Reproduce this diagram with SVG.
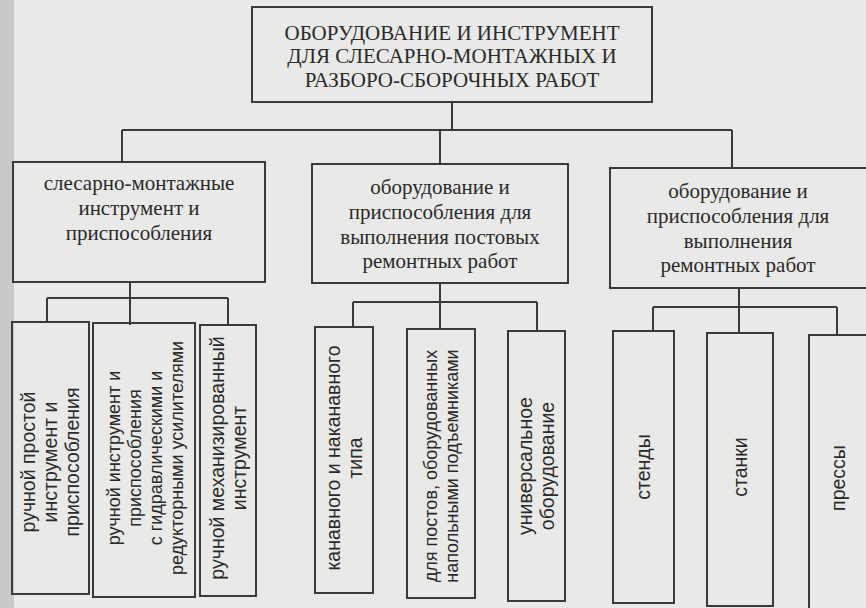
<svg xmlns="http://www.w3.org/2000/svg" width="866" height="608" viewBox="0 0 866 608">
<style>
.b{fill:none;stroke:#3a3a3a;stroke-width:2}
.c{fill:none;stroke:#3a3a3a;stroke-width:2}
.h{font-family:"Liberation Serif",serif;font-size:21px;fill:#2a2a2a;text-anchor:middle}
.v{font-family:"Liberation Sans",sans-serif;font-size:19.5px;fill:#2a2a2a;text-anchor:middle}
.s{font-size:18px}
</style>
<rect width="866" height="608" fill="#e9e9e7"/>
<rect width="14" height="608" fill="#c9c9c7"/>
<g id="connectors">
<path class="c" d="M452 102V130M122 130H732M122 130V162M440 130V164M732 130V168"/>
<path class="c" d="M130 282V325M47 298H228M47 298V322M228 298V325"/>
<path class="c" d="M440 283V329M353 302H537M353 302V327M537 302V331"/>
<path class="c" d="M739 288V333M653 307H837M653 307V331M837 307V335"/>
</g>
<g id="root"><rect class="b" x="252" y="7" width="400" height="95"/>
<text class="h" x="452" y="40">ОБОРУДОВАНИЕ И ИНСТРУМЕНТ</text>
<text class="h" x="452" y="63">ДЛЯ СЛЕСАРНО-МОНТАЖНЫХ И</text>
<text class="h" x="452" y="87">РАЗБОРО-СБОРОЧНЫХ РАБОТ</text></g>
<g id="n1"><rect class="b" x="13" y="162" width="252" height="120"/>
<text class="h" x="139" y="190">слесарно-монтажные</text>
<text class="h" x="139" y="215">инструмент и</text>
<text class="h" x="139" y="240">приспособления</text></g>
<g id="n2"><rect class="b" x="312" y="164" width="256" height="119"/>
<text class="h" x="440" y="194">оборудование и</text>
<text class="h" x="440" y="219">приспособления для</text>
<text class="h" x="440" y="244">выполнения постовых</text>
<text class="h" x="440" y="268">ремонтных работ</text></g>
<g id="n3"><rect class="b" x="610" y="168" width="262" height="120"/>
<text class="h" x="738" y="198">оборудование и</text>
<text class="h" x="738" y="223">приспособления для</text>
<text class="h" x="738" y="248">выполнения</text>
<text class="h" x="738" y="272">ремонтных работ</text></g>
<g id="a1"><rect class="b" x="12" y="322" width="77" height="272"/>
<text class="v" transform="translate(50,462) rotate(-90)"><tspan x="0" y="-15">ручной простой</tspan><tspan x="0" y="7">инструмент и</tspan><tspan x="0" y="29">приспособления</tspan></text></g>
<g id="a2"><rect class="b" x="93" y="323" width="102" height="274"/>
<text class="v s" transform="translate(144,458) rotate(-90)"><tspan x="0" y="-24">ручной инструмент и</tspan><tspan x="0" y="-3">приспособления</tspan><tspan x="0" y="18">с гидравлическими и</tspan><tspan x="0" y="39">редукторными усилителями</tspan></text></g>
<g id="a3"><rect class="b" x="200" y="325" width="56" height="271"/>
<text class="v" transform="translate(228,458) rotate(-90)"><tspan x="0" y="-4">ручной механизированный</tspan><tspan x="0" y="18">инструмент</tspan></text></g>
<g id="b1"><rect class="b" x="315" y="327" width="58" height="266"/>
<text class="v" transform="translate(344,458) rotate(-90)"><tspan x="0" y="-4">канавного и наканавного</tspan><tspan x="0" y="18">типа</tspan></text></g>
<g id="b2"><rect class="b" x="407" y="329" width="68" height="269"/>
<text class="v s" transform="translate(441,466) rotate(-90)"><tspan x="0" y="-4">для постов, оборудованных</tspan><tspan x="0" y="17">напольными подъемниками</tspan></text></g>
<g id="b3"><rect class="b" x="508" y="331" width="57" height="270"/>
<text class="v" transform="translate(536,466) rotate(-90)"><tspan x="0" y="-4">универсальное</tspan><tspan x="0" y="18">оборудование</tspan></text></g>
<g id="c1"><rect class="b" x="613" y="331" width="61" height="272"/>
<text class="v" transform="translate(643,467) rotate(-90)"><tspan x="0" y="7">стенды</tspan></text></g>
<g id="c2"><rect class="b" x="707" y="333" width="66" height="273"/>
<text class="v" transform="translate(740,467) rotate(-90)"><tspan x="0" y="7">станки</tspan></text></g>
<g id="c3"><rect class="b" x="809" y="335" width="62" height="280"/>
<text class="v" transform="translate(838,478) rotate(-90)"><tspan x="0" y="7">прессы</tspan></text></g>
</svg>
